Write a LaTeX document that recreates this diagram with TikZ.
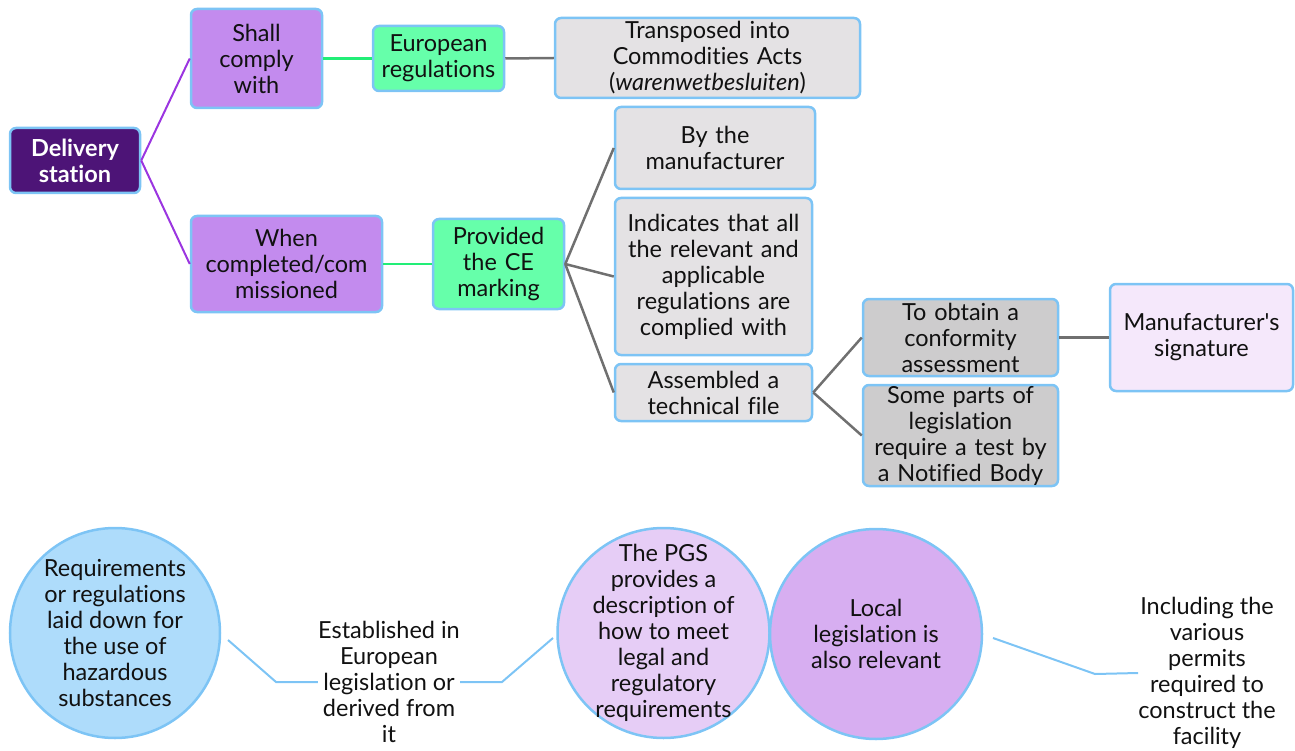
\documentclass[tikz,border=0pt]{standalone}
\usepackage{fontspec}
\setmainfont{Lato}[Ligatures={TeX,NoCommon}]
\usetikzlibrary{shapes.geometric}
\definecolor{edgeblue}{HTML}{7DC4F5}
\definecolor{deeppurple}{HTML}{4D1477}
\definecolor{lilac}{HTML}{C38BEE}
\definecolor{mint}{HTML}{66FFAA}
\definecolor{lightgrey}{HTML}{E4E2E4}
\definecolor{midgrey}{HTML}{CDCCCD}
\definecolor{palelilac}{HTML}{F5E8FB}
\definecolor{skyblue}{HTML}{AEDCFB}
\definecolor{softlilac}{HTML}{E6CDF6}
\definecolor{mauve}{HTML}{D7AEF1}
\definecolor{linkpurple}{HTML}{9B35E0}
\definecolor{linkgreen}{HTML}{22EE77}
\definecolor{linkgrey}{HTML}{707070}
\definecolor{inktext}{HTML}{111111}
\newcommand{\labelfont}{\fontsize{23.5}{26}\selectfont}
\tikzset{
  x=1pt, y=-1pt,
  box/.style={draw=edgeblue, line width=2.5pt, rounded corners=6pt, align=center,
    inner sep=0pt, text=inktext, font=\labelfont},
  bubble/.style={ellipse, draw=edgeblue, line width=2.5pt, align=center,
    inner sep=0pt, text=inktext, font=\labelfont},
  plain/.style={align=center, inner sep=0pt, text=inktext, font=\labelfont},
  purplelink/.style={draw=linkpurple, line width=2pt},
  greenlink/.style={draw=linkgreen, line width=2.5pt},
  greylink/.style={draw=linkgrey, line width=2.5pt},
  bluelink/.style={draw=edgeblue, line width=2pt},
}
\begin{document}
\begin{tikzpicture}
\useasboundingbox (0,0) rectangle (1295,751);

% mind-map branch
\node[box, fill=deeppurple, text=white, font=\labelfont\bfseries,
  minimum width=130pt, minimum height=65pt, text width=126pt] (ds) at (75,160.5) {Delivery\\station};
\node[box, fill=lilac, minimum width=131pt, minimum height=99pt, text width=125pt] (shall) at (256.5,58.5) {Shall\\comply\\with};
\node[box, fill=mint, minimum width=131pt, minimum height=65pt, text width=125pt] (eur) at (438.5,58.5) {European\\regulations};
\node[box, fill=lightgrey, minimum width=305pt, minimum height=80pt, text width=295pt] (trans) at (707.5,58) {Transposed into\\Commodities Acts\\(\textit{warenwetbesluiten})};
\node[box, fill=lilac, minimum width=191pt, minimum height=96pt, text width=187pt] (when) at (286.5,264) {When\\completed/com\\missioned};
\node[box, fill=mint, minimum width=131pt, minimum height=90pt, text width=127pt] (ce) at (498.5,264) {Provided\\the CE\\marking};
\node[box, fill=lightgrey, minimum width=200pt, minimum height=82pt, text width=194pt] (by) at (715,148) {By the\\manufacturer};
\node[box, fill=lightgrey, minimum width=197pt, minimum height=157pt, text width=193pt] (ind) at (713.5,276.5) {Indicates that all\\the relevant and\\applicable\\regulations are\\complied with};
\node[box, fill=lightgrey, minimum width=197pt, minimum height=57pt, text width=191pt] (tech) at (713.5,392.5) {Assembled a\\technical file};
\node[box, fill=midgrey, minimum width=195pt, minimum height=77pt, text width=191pt] (conf) at (960.5,337.5) {To obtain a\\conformity\\assessment};
\node[box, fill=midgrey, minimum width=195pt, minimum height=101pt, text width=191pt] (nb) at (960.5,435.5) {Some parts of\\legislation\\require a test by\\a Notified Body};
\node[box, fill=palelilac, minimum width=183pt, minimum height=107pt, text width=179pt] (sig) at (1201.5,337.5) {Manufacturer\textquotesingle s\\signature};

\draw[purplelink] (ds.east) -- (shall.west);
\draw[purplelink] (ds.east) -- (when.west);
\draw[greenlink] (shall.east) -- (eur.west);
\draw[greenlink] (when.east) -- (ce.west);
\draw[greylink] (eur.east) -- (trans.west);
\draw[greylink] (ce.east) -- (by.west);
\draw[greylink] (ce.east) -- (ind.west);
\draw[greylink] (ce.east) -- (tech.west);
\draw[greylink] (tech.east) -- (conf.west);
\draw[greylink] (tech.east) -- (nb.west);
\draw[greylink, line width=3pt] (conf.east) -- (sig.west);

% lower row of bubbles
\node[bubble, fill=skyblue, minimum width=210pt, minimum height=210pt] (req) at (115,633) {};
\node[plain] at (115,633) {Requirements\\or regulations\\laid down for\\the use of\\hazardous\\substances};
\node[plain] (est) at (389,682) {Established in\\European\\legislation or\\derived from\\it};
\node[bubble, fill=softlilac, minimum width=212pt, minimum height=210pt] (pgs) at (663.5,633) {};
\node[plain] at (663.5,633) {The PGS\\provides a\\description of\\how to meet\\legal and\\regulatory\\requirements};
\node[bubble, fill=mauve, minimum width=212pt, minimum height=210pt] (loc) at (876,634) {};
\node[plain] at (876,634) {Local\\legislation is\\also relevant};
\node[plain] (perm) at (1207,673) {Including the\\various\\permits\\required to\\construct the\\facility};

\coordinate (k1) at (276,682);
\coordinate (k2) at (502,682);
\coordinate (k3) at (1095,674);
\draw[bluelink] (228,640) -- (k1) -- (est.west);
\draw[bluelink] (est.east) -- (k2) -- (553,638);
\draw[bluelink] (993,638) -- (k3) -- (perm.west);
\end{tikzpicture}
\end{document}
